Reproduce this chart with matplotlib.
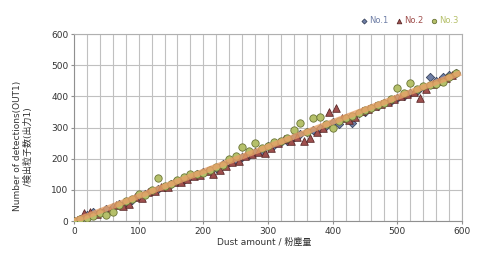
import matplotlib
matplotlib.use("Agg")
import matplotlib.pyplot as plt
import numpy as np

plt.rcParams['font.family'] = ['DejaVu Sans', 'Noto Sans CJK JP']

x1 = list(range(0, 600, 10))
y1 = [0, 6, 20, 28, 30, 38, 45, 55, 60, 68, 80, 88, 95, 102, 108, 118, 128, 133, 143, 150,
      157, 165, 170, 184, 188, 195, 205, 212, 220, 226, 240, 245, 252, 258, 268, 278, 285, 292, 300, 305,
      318, 311, 330, 314, 345, 350, 362, 370, 378, 384, 395, 400, 410, 418, 430, 462, 448, 462, 470, 475]

x2 = list(range(5, 595, 10))
y2 = [2, 25, 30, 22, 30, 35, 50, 48, 55, 78, 75, 92, 95, 110, 108, 125, 125, 135, 145, 148,
      160, 150, 165, 178, 190, 192, 210, 215, 222, 218, 235, 250, 262, 258, 268, 257, 266, 286, 300, 350,
      362, 330, 325, 335, 352, 360, 368, 375, 383, 390, 400, 408, 415, 395, 423, 440, 450, 460, 468]

x3 = list(range(0, 600, 10))
y3 = [0, 8, 10, 15, 25, 20, 28, 50, 65, 72, 88, 85, 100, 138, 112, 118, 130, 140, 150, 152,
      155, 165, 172, 180, 198, 210, 237, 225, 250, 235, 240, 252, 258, 265, 292, 314, 285, 330, 334, 310,
      298, 320, 330, 338, 345, 355, 362, 372, 380, 392, 427, 410, 442, 425, 432, 436, 440, 445, 462, 475]

labels = ["No.1", "No.2", "No.3"]
x_ticks = [0, 100, 200, 300, 400, 500, 600]
y_ticks = [0, 100, 200, 300, 400, 500, 600]

fig = plt.figure(figsize=(4.85, 2.74), dpi=100)
ax = fig.add_axes([0.1526, 0.1934, 0.8, 0.6825])

ax.set_xlim(0, 600)
ax.set_ylim(0, 600)
ax.set_xticks(x_ticks)
ax.set_yticks(y_ticks)
ax.set_xticks(np.arange(0, 601, 20), minor=True)
ax.grid(True, which='major', color='#c0c0c0', lw=0.8)
ax.grid(True, which='minor', axis='x', color='#c0c0c0', lw=0.8)
ax.set_axisbelow(True)
for s in ax.spines.values():
    s.set_color('#b0b0b0')
    s.set_linewidth(0.8)
ax.spines['left'].set_color('#909090')
ax.spines['bottom'].set_color('#909090')
ax.tick_params(which='both', length=2, color='#909090', labelsize=6.5, labelcolor='#333333', pad=2)
ax.tick_params(which='minor', length=0)

ax.scatter(x1, y1, marker='D', s=18, c='#6f7fa6', edgecolors='#3a445e', linewidths=0.6, zorder=3, label=labels[0])
ax.scatter(x2, y2, marker='^', s=30, c='#a0504e', edgecolors='#5a2828', linewidths=0.6, zorder=3, label=labels[1])
ax.scatter(x3, y3, marker='o', s=28, c='#b5c06a', edgecolors='#6a7436', linewidths=0.6, zorder=4, label=labels[2])

allx = np.array(x1 + x2 + x3, dtype=float)
ally = np.array(y1 + y2 + y3, dtype=float)
k = np.sum(allx * ally) / np.sum(allx * allx)
xl = np.array([0, 598])
ax.plot(xl, k * xl, color='#e6a068', lw=4.0, alpha=0.8, zorder=5, solid_capstyle='butt')

leg = ax.legend(loc='lower right', bbox_to_anchor=(1.0, 1.03), ncol=3, frameon=False,
                fontsize=6, handletextpad=0.1, columnspacing=0.8, handlelength=1.0,
                borderaxespad=0, labelcolor='markerfacecolor', markerscale=0.6)

ax.set_xlabel("Dust amount / 粉塵量", fontsize=6.5, color='#333333',
              family=['DejaVu Sans', 'Noto Sans CJK JP'])
ax.xaxis.set_label_coords(0.49, -0.09)
ax.set_ylabel("Number of detections(OUT1)\n/検出粒子数(出力1)", fontsize=6.5, color='#333333',
              family=['DejaVu Sans', 'Noto Sans CJK JP'], linespacing=1.3)
ax.yaxis.set_label_coords(-0.105, 0.4)

fig.savefig("out.png", dpi=100)
